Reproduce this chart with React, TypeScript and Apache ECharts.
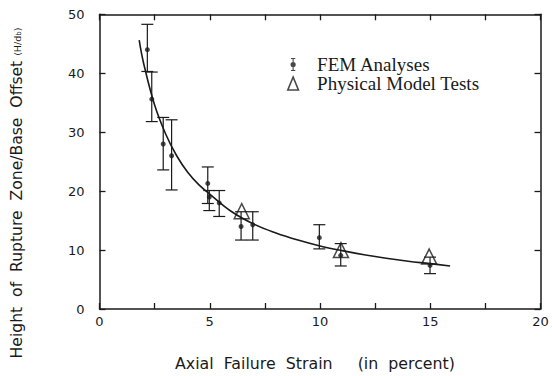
import React, { useEffect, useRef } from "react";
import * as echarts from "echarts";

// FEM analyses: mean with error bar range
const femX = [2.17, 2.37, 2.89, 3.27, 4.91, 4.98, 5.43, 6.42, 6.95, 9.97, 10.94, 14.99];
const femY = [44.0, 35.6, 28.0, 26.0, 21.3, 19.0, 18.0, 14.0, 14.3, 12.1, 9.1, 7.4];
const femLow = [40.3, 31.8, 23.6, 20.2, 17.9, 16.7, 15.7, 11.7, 11.7, 10.2, 7.3, 6.0];
const femHigh = [48.3, 40.2, 32.5, 32.1, 24.1, 20.1, 20.1, 16.5, 16.5, 14.3, 11.1, 8.8];

// Physical model tests
const modelX = [6.45, 10.95, 14.95];
const modelY = [16.6, 10.0, 8.9];

// Fitted curve
const curveX = [1.8, 2.0, 2.5, 3.0, 3.5, 4.0, 4.5, 5.0, 6.0, 7.0, 8.0, 9.0, 10.0, 11.0, 12.0, 13.0, 14.0, 15.0, 15.9];
const curveY = [45.6, 41.7, 34.6, 29.7, 26.0, 23.2, 21.1, 19.5, 16.5, 14.4, 12.9, 11.7, 10.7, 9.9, 9.2, 8.6, 8.1, 7.7, 7.3];

// Axis ticks
const xLabelTicks = [0, 5, 10, 15, 20];
const yTicks = [0, 10, 20, 30, 40, 50];

const INK = "#1a1a1a";
const SANS = "DejaVu Sans";
const SERIF = "Liberation Serif";

export default function App() {
  const ref = useRef<HTMLDivElement>(null);

  useEffect(() => {
    if (!ref.current) return;
    const chart = echarts.init(ref.current, undefined, { renderer: "svg" });

    const axisCommon = {
      axisLine: { show: true, onZero: false, lineStyle: { color: INK, width: 1.5 } },
      axisTick: { show: true, inside: true, length: 6, lineStyle: { color: INK, width: 1.3 } },
      splitLine: { show: false },
    };

    const errStyle = { stroke: INK, lineWidth: 1.2 };

    chart.setOption({
      animation: false,
      backgroundColor: "#ffffff",
      grid: { left: 99.5, right: 11.5, top: 14.3, bottom: 64.5, containLabel: false },
      xAxis: [
        {
          type: "value",
          min: 0,
          max: 20,
          interval: 2.5,
          ...axisCommon,
          axisLabel: {
            margin: 6,
            color: INK,
            fontFamily: SANS,
            fontSize: 13,
            formatter: (v: number) => (xLabelTicks.includes(v) ? String(v) : ""),
          },
          name: "Axial  Failure  Strain     (in  percent)  ",
          nameLocation: "middle",
          nameGap: 46,
          nameTextStyle: { color: INK, fontFamily: SANS, fontSize: 15.8 },
        },
        {
          type: "value",
          position: "top",
          min: 0,
          max: 20,
          interval: 2.5,
          ...axisCommon,
          axisLabel: { show: false },
        },
      ],
      yAxis: [
        {
          type: "value",
          min: yTicks[0],
          max: yTicks[yTicks.length - 1],
          interval: 10,
          ...axisCommon,
          axisLabel: { margin: 15, color: INK, fontFamily: SANS, fontSize: 13 },
        },
        {
          type: "value",
          position: "right",
          min: yTicks[0],
          max: yTicks[yTicks.length - 1],
          interval: 10,
          ...axisCommon,
          axisLabel: { show: false },
        },
      ],
      legend: {
        orient: "vertical",
        left: 282,
        top: 50,
        itemWidth: 38,
        itemHeight: 13,
        itemGap: 0,
        symbolKeepAspect: true,
        textStyle: { color: INK, fontFamily: SERIF, fontSize: 19 },
        data: [
          {
            name: "FEM Analyses",
            icon:
              "path://M2,0 H6 V1 H2 Z M3.5,1 H4.5 V11 H3.5 Z M2,11 H6 V12 H2 Z M4,3.6 A2.4,2.4 0 1 1 4,8.4 A2.4,2.4 0 1 1 4,3.6 Z",
            itemStyle: { color: INK },
          },
          {
            name: "Physical Model Tests",
            icon: "path://M4.5,0 L9,11 L0,11 Z",
            itemStyle: { color: "rgba(255,255,255,0)", borderColor: INK, borderWidth: 1.6 },
          },
        ],
      },
      graphic: [
        {
          type: "text",
          x: 17,
          y: 193,
          rotation: Math.PI / 2,
          style: {
            text: "Height  of  Rupture  Zone/Base  Offset {s|(H/d}{b|b}{s|)}",
            fill: INK,
            font: `15.6px "${SANS}"`,
            align: "center",
            verticalAlign: "middle",
            rich: {
              s: { fontSize: 9.5, fontFamily: SANS, fill: INK },
              b: { fontSize: 7, fontFamily: SANS, fill: INK, padding: [4, 0, 0, 0] },
            },
          },
        },
      ],
      series: [
        {
          name: "curve",
          type: "line",
          data: curveX.map((x, i) => [x, curveY[i]]),
          smooth: 0.4,
          showSymbol: false,
          lineStyle: { color: INK, width: 1.6 },
          z: 2,
        },
        {
          name: "errors",
          type: "custom",
          data: femX.map((x, i) => [x, femLow[i], femHigh[i]]),
          encode: { x: 0, y: [1, 2] },
          renderItem: (params: any, api: any) => {
            const x = api.value(0);
            const lo = api.coord([x, api.value(1)]);
            const hi = api.coord([x, api.value(2)]);
            const hw = 6;
            return {
              type: "group",
              children: [
                { type: "line", shape: { x1: hi[0], y1: hi[1], x2: lo[0], y2: lo[1] }, style: errStyle },
                { type: "line", shape: { x1: hi[0] - hw, y1: hi[1], x2: hi[0] + hw, y2: hi[1] }, style: errStyle },
                { type: "line", shape: { x1: lo[0] - hw, y1: lo[1], x2: lo[0] + hw, y2: lo[1] }, style: errStyle },
              ],
            };
          },
          z: 3,
        },
        {
          name: "FEM Analyses",
          type: "scatter",
          data: femX.map((x, i) => [x, femY[i]]),
          symbol: "circle",
          symbolSize: 5,
          itemStyle: { color: INK },
          z: 4,
        },
        {
          name: "Physical Model Tests",
          type: "scatter",
          data: modelX.map((x, i) => [x, modelY[i]]),
          symbol: "triangle",
          symbolSize: [15, 15],
          itemStyle: { color: "rgba(255,255,255,0)", borderColor: INK, borderWidth: 1.5 },
          z: 5,
        },
      ],
    });

    return () => chart.dispose();
  }, []);

  return <div ref={ref} style={{ width: 552, height: 376, position: "absolute", left: 0, top: 0 }} />;
}
